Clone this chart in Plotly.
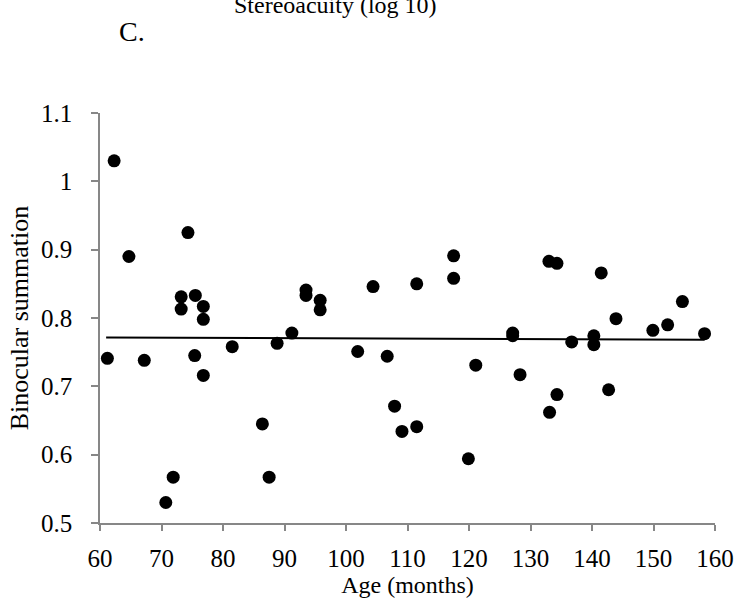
import plotly.graph_objects as go

# Data
age_months = [61.2, 62.3, 64.7, 67.2, 70.7, 71.9, 73.2, 73.2, 74.3, 75.5,
              75.4, 76.8, 76.8, 76.8, 81.5, 86.4, 87.5, 88.8, 91.2, 93.5,
              93.5, 95.8, 95.8, 101.9, 104.4, 106.7, 107.9, 109.1, 111.5, 111.5,
              117.5, 117.5, 119.9, 121.1, 127.1, 127.1, 128.3, 133.0, 134.3, 133.1,
              134.3, 136.7, 140.3, 140.3, 141.5, 142.7, 143.9, 149.9, 152.3, 154.7,
              158.3]
binocular_summation = [0.741, 1.030, 0.890, 0.738, 0.530, 0.567, 0.831, 0.813, 0.925, 0.833,
                       0.745, 0.817, 0.798, 0.716, 0.758, 0.645, 0.567, 0.763, 0.778, 0.841,
                       0.833, 0.826, 0.812, 0.751, 0.846, 0.744, 0.671, 0.634, 0.850, 0.641,
                       0.891, 0.858, 0.594, 0.731, 0.778, 0.774, 0.717, 0.883, 0.880, 0.662,
                       0.688, 0.765, 0.774, 0.761, 0.866, 0.695, 0.799, 0.782, 0.790, 0.824,
                       0.777]
trend_x = [61.0, 158.3]
trend_y = [0.7716, 0.7683]

x_ticks = [60, 70, 80, 90, 100, 110, 120, 130, 140, 150, 160]
y_ticks = [0.5, 0.6, 0.7, 0.8, 0.9, 1.0, 1.1]
y_tick_text = ["0.5", "0.6", "0.7", "0.8", "0.9", "1", "1.1"]

FONT = "Times New Roman, Liberation Serif, serif"
AXIS_GREY = "#878787"

fig = go.Figure()
fig.add_trace(go.Scatter(
    x=age_months, y=binocular_summation, mode="markers",
    marker=dict(color="black", size=13, line=dict(width=0)),
    showlegend=False, hoverinfo="x+y"))
fig.add_trace(go.Scatter(
    x=trend_x, y=trend_y, mode="lines",
    line=dict(color="black", width=2), showlegend=False, hoverinfo="skip"))

L, R, T, B = 100, 24, 113, 91
fig.update_layout(
    width=746, height=614,
    margin=dict(l=L, r=R, t=T, b=B, pad=0),
    paper_bgcolor="white", plot_bgcolor="white",
    font=dict(family=FONT, color="black", size=22),
    xaxis=dict(range=[60, 160], tickvals=x_ticks, showgrid=False, zeroline=False,
               showline=True, linecolor=AXIS_GREY, linewidth=1.5,
               ticks="outside", ticklen=6, tickcolor=AXIS_GREY, tickwidth=1.5,
               ticklabelstandoff=6,
               tickfont=dict(family=FONT, size=25, color="black"),
               title=dict(text="Age (months)", font=dict(family=FONT, size=24), standoff=0)),
    yaxis=dict(range=[0.5, 1.1], tickvals=y_ticks, ticktext=y_tick_text, showgrid=False,
               zeroline=False, showline=True, linecolor=AXIS_GREY, linewidth=1.5,
               ticks="outside", ticklen=7, tickcolor=AXIS_GREY, tickwidth=1.5,
               ticklabelstandoff=14,
               tickfont=dict(family=FONT, size=25, color="black"),
               title=dict(text="Binocular summation", font=dict(family=FONT, size=26), standoff=5)),
)

ph = 614 - T - B
pw = 746 - L - R
def px(xp):
    return (xp - L) / pw
def py(yp):
    return (614 - B - yp) / ph

fig.add_annotation(text="C.", x=px(117), y=py(31), xref="paper", yref="paper",
                   xanchor="left", yanchor="middle", showarrow=False,
                   font=dict(family=FONT, size=28, color="black"))
fig.add_annotation(text="Stereoacuity (log 10)", x=px(338), y=py(5), xref="paper", yref="paper",
                   xanchor="center", yanchor="middle", showarrow=False,
                   font=dict(family=FONT, size=24, color="black"))

fig.write_html("out.html")
